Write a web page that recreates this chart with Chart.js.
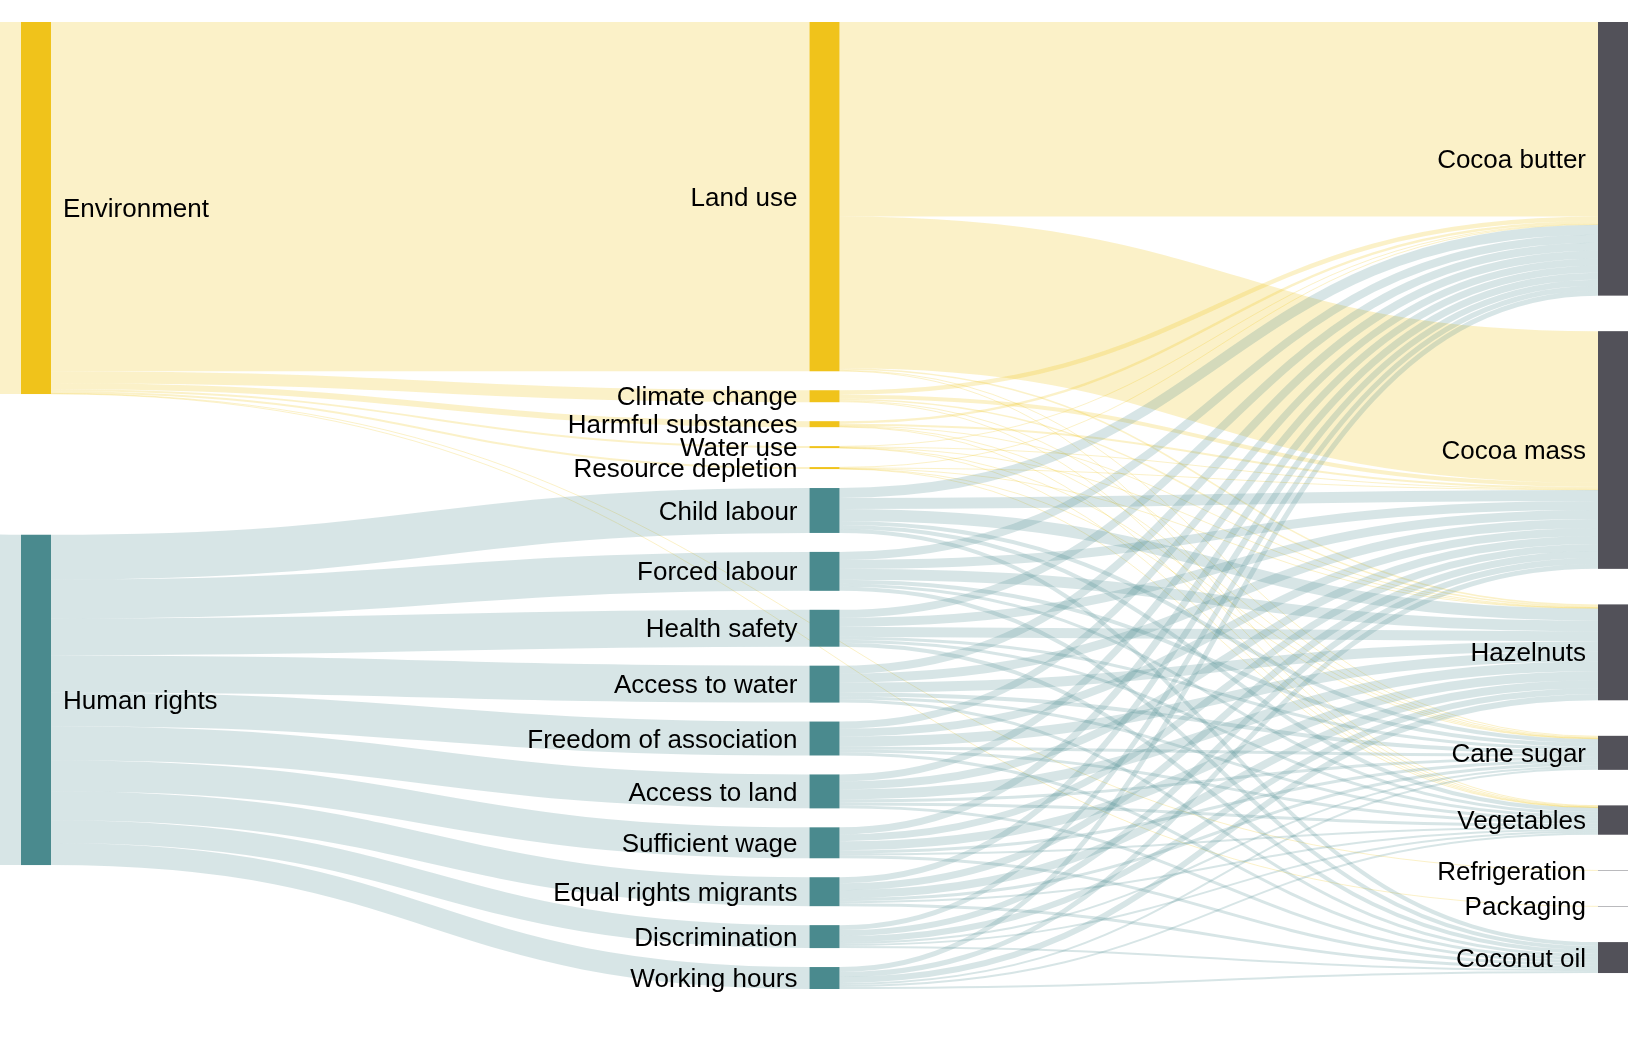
<!DOCTYPE html>
<html>
<head>
<meta charset="utf-8">
<title>Chocolate spread – environment and human rights</title>
<script src="https://cdn.jsdelivr.net/npm/chart.js@4.4.1/dist/chart.umd.min.js"></script>
<style>
  html, body { margin: 0; padding: 0; background: #ffffff; }
  canvas { display: block; }
</style>
</head>
<body>
<canvas id="sankeyChart" width="1652" height="1042"></canvas>
<script>
// Categorias
const origin = '';
const areas = ['Environment', 'Human rights'];
const environmentIssues = ['Land use', 'Climate change', 'Harmful substances', 'Water use', 'Resource depletion'];
const humanRightsIssues = ['Child labour', 'Forced labour', 'Health safety', 'Access to water', 'Freedom of association',
  'Access to land', 'Sufficient wage', 'Equal rights migrants', 'Discrimination', 'Working hours'];
const ingredients = ['Cocoa butter', 'Cocoa mass', 'Hazelnuts', 'Cane sugar', 'Vegetables', 'Refrigeration', 'Packaging', 'Coconut oil'];

// Fluxos: origem -> áreas
const areaValues = [372.8, 331];

// Environment -> temas (e fluxos diretos para ingredientes)
const environmentValues = [350, 12, 6, 2, 2];
const environmentDirect = ['Refrigeration', 'Packaging'];
const environmentDirectValues = [0.4, 0.4];

// Human rights -> temas
const humanRightsValues = [45, 39, 37, 37, 34, 34, 31, 29, 23, 22];

// Temas ambientais -> ingredientes
const envTargets = ['Cocoa butter', 'Cocoa mass', 'Hazelnuts', 'Cane sugar', 'Vegetables'];
const landUse = [195, 152, 1.5, 1, 0.5];
const climateChange = [4.5, 4, 1.5, 1, 1];
const harmfulSubstances = [2.5, 2, 0.5, 0.5, 0.5];
const waterUse = [0.6, 0.6, 0.3, 0.3, 0.2];
const resourceDepletion = [0.6, 0.6, 0.3, 0.3, 0.2];

// Temas de direitos humanos -> ingredientes
const hrTargets = ['Cocoa butter', 'Cocoa mass', 'Hazelnuts', 'Cane sugar', 'Vegetables', 'Coconut oil'];
const childLabour = [10, 11, 12, 4, 4, 4];
const forcedLabour = [8, 9, 11, 4, 3, 4];
const healthSafety = [8, 9, 10, 3, 3, 4];
const accessToWater = [8, 9, 10, 4, 3, 3];
const freedomOfAssociation = [7, 8, 10, 3, 3, 3];
const accessToLand = [7, 8, 10, 3, 3, 3];
const sufficientWage = [7, 7, 9, 3, 2, 3];
const equalRightsMigrants = [6, 7, 8, 3, 2, 3];
const discrimination = [5, 6, 6, 2, 2, 2];
const workingHours = [5, 5, 6, 2, 2, 2];

// Estilos
const nodeColors = { env: '#F0C31B', hr: '#4A8A8E', ing: '#525159' };
const linkColors = { env: 'rgba(240, 195, 27, 0.24)', hr: 'rgba(74, 138, 142, 0.22)' };
const columnPadding = { '-1': 0, '0': 141, '1': 19, '2': 35.6 };
const nodeWidth = 30;
const labelGap = 12;
const labelFont = '26px "Liberation Sans", Arial, Helvetica, sans-serif';

// Montagem do grafo
const links = [];
function addLinks(source, targets, values) {
  targets.forEach((t, i) => links.push({ source: source, target: t, value: values[i] }));
}
addLinks(origin, areas, areaValues);
addLinks('Environment', environmentIssues, environmentValues);
addLinks('Environment', environmentDirect, environmentDirectValues);
addLinks('Human rights', humanRightsIssues, humanRightsValues);
const envRows = [landUse, climateChange, harmfulSubstances, waterUse, resourceDepletion];
environmentIssues.forEach((name, i) => addLinks(name, envTargets, envRows[i]));
const hrRows = [childLabour, forcedLabour, healthSafety, accessToWater, freedomOfAssociation,
  accessToLand, sufficientWage, equalRightsMigrants, discrimination, workingHours];
humanRightsIssues.forEach((name, i) => addLinks(name, hrTargets, hrRows[i]));

const nodeOrder = [origin].concat(areas, environmentIssues, humanRightsIssues, ingredients);
const nodes = nodeOrder.map(name => ({ name: name, sourceLinks: [], targetLinks: [] }));
const byName = {};
nodes.forEach(n => { byName[n.name] = n; });
nodes.forEach(n => {
  if (n.name === origin) n.group = null;
  else if (n.name === 'Environment' || environmentIssues.includes(n.name)) n.group = 'env';
  else if (n.name === 'Human rights' || humanRightsIssues.includes(n.name)) n.group = 'hr';
  else n.group = 'ing';
});
links.forEach(l => {
  l.source = byName[l.source];
  l.target = byName[l.target];
  l.source.sourceLinks.push(l);
  l.target.targetLinks.push(l);
  l.group = l.source.group || l.target.group;
});
nodes.forEach(n => {
  const inV = n.targetLinks.reduce((s, l) => s + l.value, 0);
  const outV = n.sourceLinks.reduce((s, l) => s + l.value, 0);
  n.value = Math.max(inV, outV);
});

// Colunas (origem fora da tela em -1, sumidouros na última coluna)
function setDepth(node, d) {
  if (node.depth !== undefined && node.depth >= d) return;
  node.depth = d;
  node.sourceLinks.forEach(l => setDepth(l.target, d + 1));
}
setDepth(byName[origin], -1);
const maxDepth = Math.max(...nodes.map(n => n.depth));
nodes.forEach(n => { n.column = n.sourceLinks.length ? n.depth : maxDepth; });

// Posições verticais em unidades de valor
let yMax = 0;
const columns = {};
nodes.forEach(n => { (columns[n.column] = columns[n.column] || []).push(n); });
Object.keys(columns).forEach(c => {
  let y = 0;
  columns[c].forEach(n => {
    n.y0 = y;
    n.y1 = y + n.value;
    y = n.y1 + columnPadding[c];
  });
  yMax = Math.max(yMax, y - columnPadding[c]);
});
nodes.forEach(n => {
  n.sourceLinks.sort((a, b) => a.target.y0 - b.target.y0);
  n.targetLinks.sort((a, b) => a.source.y0 - b.source.y0);
  let sy = n.y0;
  n.sourceLinks.forEach(l => { l.sy = sy; sy += l.value; });
  let ty = n.y0;
  n.targetLinks.forEach(l => { l.ty = ty; ty += l.value; });
});

// Plugin que desenha o sankey usando as escalas do Chart.js
const sankeyPlugin = {
  id: 'sankeyPlugin',
  afterDatasetsDraw(chart) {
    const ctx = chart.ctx;
    const xs = chart.scales.x;
    const ys = chart.scales.y;
    const ky = Math.abs(ys.getPixelForValue(1) - ys.getPixelForValue(0));
    ctx.save();

    // Ligações
    links.forEach(l => {
      const x0 = xs.getPixelForValue(l.source.column) + nodeWidth;
      const x1 = xs.getPixelForValue(l.target.column);
      const y0 = ys.getPixelForValue(l.sy + l.value / 2);
      const y1 = ys.getPixelForValue(l.ty + l.value / 2);
      const xm = (x0 + x1) / 2;
      ctx.beginPath();
      ctx.moveTo(x0, y0);
      ctx.bezierCurveTo(xm, y0, xm, y1, x1, y1);
      ctx.strokeStyle = linkColors[l.group];
      ctx.lineWidth = Math.max(1, l.value * ky);
      ctx.lineCap = 'butt';
      ctx.stroke();
    });

    // Nós
    nodes.forEach(n => {
      if (!n.group) return;
      const x0 = xs.getPixelForValue(n.column);
      const top = ys.getPixelForValue(n.y0);
      const bottom = ys.getPixelForValue(n.y1);
      ctx.fillStyle = nodeColors[n.group];
      ctx.fillRect(x0, top, nodeWidth, bottom - top);
    });

    // Rótulos
    ctx.font = labelFont;
    ctx.fillStyle = '#000000';
    ctx.textBaseline = 'alphabetic';
    nodes.forEach(n => {
      if (!n.name) return;
      const x0 = xs.getPixelForValue(n.column);
      const yc = ys.getPixelForValue((n.y0 + n.y1) / 2) + 0.35 * 26;
      if (n.column <= 0) {
        ctx.textAlign = 'left';
        ctx.fillText(n.name, x0 + nodeWidth + labelGap, yc);
      } else {
        ctx.textAlign = 'right';
        ctx.fillText(n.name, x0 - labelGap, yc);
      }
    });
    ctx.restore();
  }
};

const chartCtx = document.getElementById('sankeyChart').getContext('2d');
new Chart(chartCtx, {
  type: 'scatter',
  data: { datasets: [] },
  options: {
    responsive: false,
    animation: false,
    events: [],
    devicePixelRatio: 1,
    layout: { padding: { left: 21, right: 54, top: 22, bottom: 53 } },
    plugins: {
      legend: { display: false },
      tooltip: { enabled: false }
    },
    scales: {
      x: { type: 'linear', min: 0, max: maxDepth, display: false },
      y: { type: 'linear', min: 0, max: yMax, reverse: true, display: false }
    }
  },
  plugins: [sankeyPlugin]
});
</script>
</body>
</html>
